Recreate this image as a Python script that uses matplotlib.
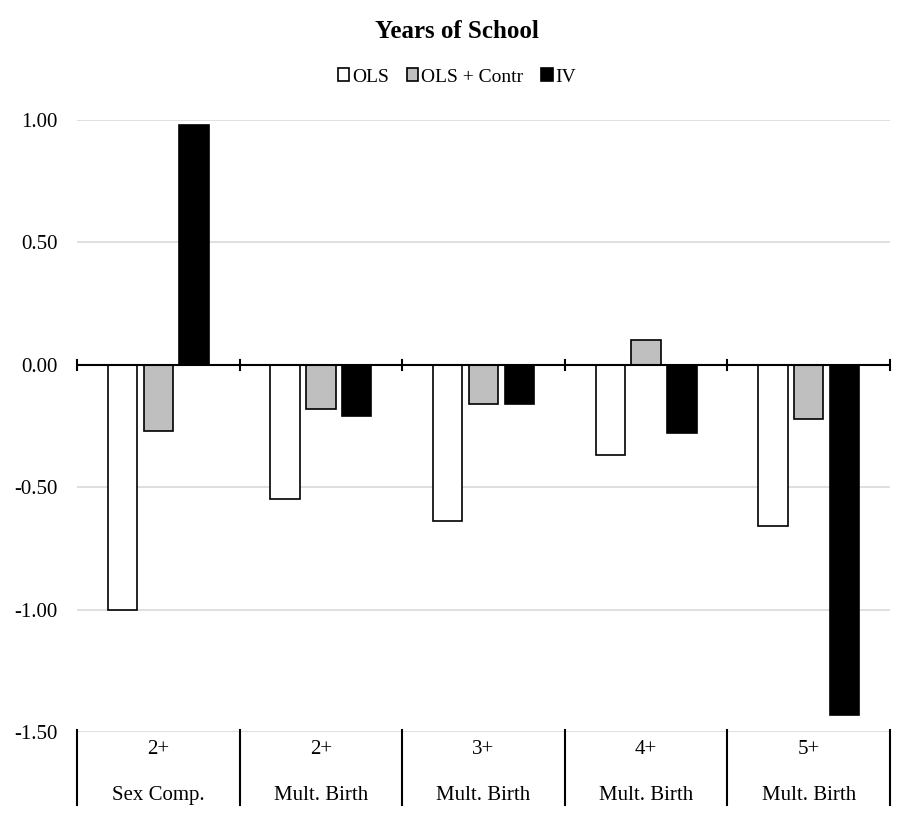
import matplotlib.pyplot as plt
import numpy as np

plt.rcParams['font.family'] = ['Liberation Serif', 'DejaVu Serif']

top_labels = ['2+', '2+', '3+', '4+', '5+']
bottom_labels = ['Sex Comp.', 'Mult. Birth', 'Mult. Birth', 'Mult. Birth', 'Mult. Birth']
ols = [-1.00, -0.55, -0.64, -0.37, -0.66]
ols_contr = [-0.27, -0.18, -0.16, 0.10, -0.22]
iv = [0.98, -0.21, -0.16, -0.28, -1.43]

fig = plt.figure(figsize=(9.14, 8.16), dpi=100)
ax = fig.add_axes([77/914, 1-732/816, (890-77)/914, (732-120)/816])

x = np.arange(len(top_labels)) + 0.5
w = 0.18
ax.bar(x - 0.22, ols, w, color='white', edgecolor='black', linewidth=1.2, label='OLS', zorder=3)
ax.bar(x, ols_contr, w, color='#bfbfbf', edgecolor='black', linewidth=1.2, label='OLS + Contr', zorder=3)
ax.bar(x + 0.22, iv, w, color='black', edgecolor='black', linewidth=1.2, label='IV', zorder=3)

ax.set_xlim(0, 5)
ax.set_ylim(-1.5, 1.0)
ax.set_yticks(np.arange(-1.5, 1.01, 0.5))
ax.set_yticklabels(['%.2f' % v for v in np.arange(-1.5, 1.01, 0.5)], fontsize=15)
ax.yaxis.grid(True, color='#d9d9d9', linewidth=1.2, zorder=0)
ax.tick_params(axis='y', length=0, pad=14)
for s in ['top', 'right', 'left', 'bottom']:
    ax.spines[s].set_visible(False)
ax.set_xticks([])

# zero axis with ticks at group boundaries
ax.axhline(0, color='black', linewidth=1.5, zorder=4)
for b in range(6):
    ax.plot([b, b], [-0.02, 0.02], color='black', linewidth=1.5, zorder=4, clip_on=False)
    ax.plot([b, b], [-1.49, -1.5 - 0.30], color='black', linewidth=1.5, clip_on=False)

for i in range(len(top_labels)):
    ax.text(x[i], -1.5 - 0.07, top_labels[i], ha='center', va='center', fontsize=15, clip_on=False)
    ax.text(x[i], -1.5 - 0.26, bottom_labels[i], ha='center', va='center', fontsize=15, clip_on=False)

fig.text(0.5, 1-32/816, 'Years of School', ha='center', va='center', fontsize=18, fontweight='bold')
fig.legend(loc='center', bbox_to_anchor=(0.5, 1-77/816), ncol=3, frameon=False, fontsize=14,
           handlelength=0.6, handleheight=0.6, handletextpad=0.15, columnspacing=0.9)

fig.savefig('out.png', dpi=100)
